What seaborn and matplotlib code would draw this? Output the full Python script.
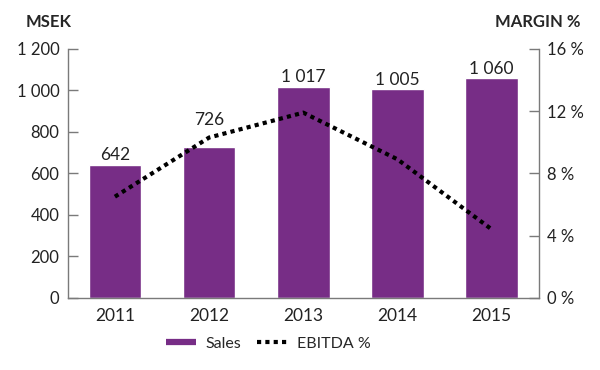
import matplotlib
matplotlib.use("Agg")
import matplotlib.pyplot as plt
import seaborn as sns
import numpy as np
import pandas as pd
from matplotlib.lines import Line2D

years = ["2011", "2012", "2013", "2014", "2015"]
sales = [642, 726, 1017, 1005, 1060]
ebitda_margin = [6.5, 10.3, 11.9, 8.9, 4.4]
left_ticks = [0, 200, 400, 600, 800, 1000, 1200]
right_ticks = [0, 4, 8, 12, 16]

purple = "#772d86"
grey = "#7a7a7a"
txt = "#222222"


def fmt_thousands(v):
    return f"{int(v):,}".replace(",", " ")


sns.set_style("white")
plt.rcParams["font.family"] = ["Lato", "DejaVu Sans"]

df = pd.DataFrame({"Year": years, "Sales": sales, "Margin": ebitda_margin})

fig = plt.figure(figsize=(6, 3.7), dpi=100)
ax = fig.add_axes([0.113, 0.195, 0.785, 0.673])

sns.barplot(data=df, x="Year", y="Sales", color=purple, saturation=1,
            width=0.56, ax=ax)
ax.set_xlim(-0.5, len(years) - 0.5)
ax.set_ylim(0, 1200)
ax.set_yticks(left_ticks)
ax.set_yticklabels([fmt_thousands(t) for t in left_ticks])
ax.set_xlabel("")
ax.set_ylabel("")

# label for 2012 sits above the margin line
label_lift = [1, 14, 1, 1, 1]
for i, v in enumerate(sales):
    ax.annotate(fmt_thousands(v), (i, v), xytext=(0, label_lift[i]), textcoords="offset points",
                ha="center", va="bottom", fontsize=12.5, color=txt)

ax2 = ax.twinx()
ax2.plot(np.arange(len(years)), df["Margin"], color="black", lw=3,
         linestyle=(0, (1, 1)), dash_capstyle="butt")
ax2.set_ylim(0, 16)
ax2.set_yticks(right_ticks)
ax2.set_yticklabels([f"{t} %" for t in right_ticks])

for a in (ax, ax2):
    for s in a.spines.values():
        s.set_color(grey)
        s.set_linewidth(1)
    a.spines["top"].set_visible(False)
    a.tick_params(axis="y", direction="in", length=7, width=1, color=grey,
                  labelsize=12, labelcolor=txt, pad=6)
ax.spines["right"].set_visible(False)
ax.tick_params(axis="x", length=0, labelsize=12.5, labelcolor=txt, pad=7)
ax2.spines["left"].set_visible(False)
ax2.spines["bottom"].set_visible(False)

fig.text(0.042, 0.94, "MSEK", fontsize=12, fontweight="bold", ha="left", va="center")
fig.text(0.968, 0.94, "MARGIN %", fontsize=12, fontweight="bold", ha="right", va="center")

handles = [
    Line2D([0], [0], color=purple, lw=4.5, solid_capstyle="butt"),
    Line2D([0], [0], color="black", lw=3, linestyle=(0, (1, 1)), dash_capstyle="butt"),
]
fig.legend(handles, ["Sales", "EBITDA %"], loc="center", bbox_to_anchor=(0.447, 0.071),
           ncol=2, frameon=False, fontsize=11.5, handlelength=1.9, columnspacing=1.0,
           handletextpad=0.6)

fig.savefig("out.png", dpi=100)
